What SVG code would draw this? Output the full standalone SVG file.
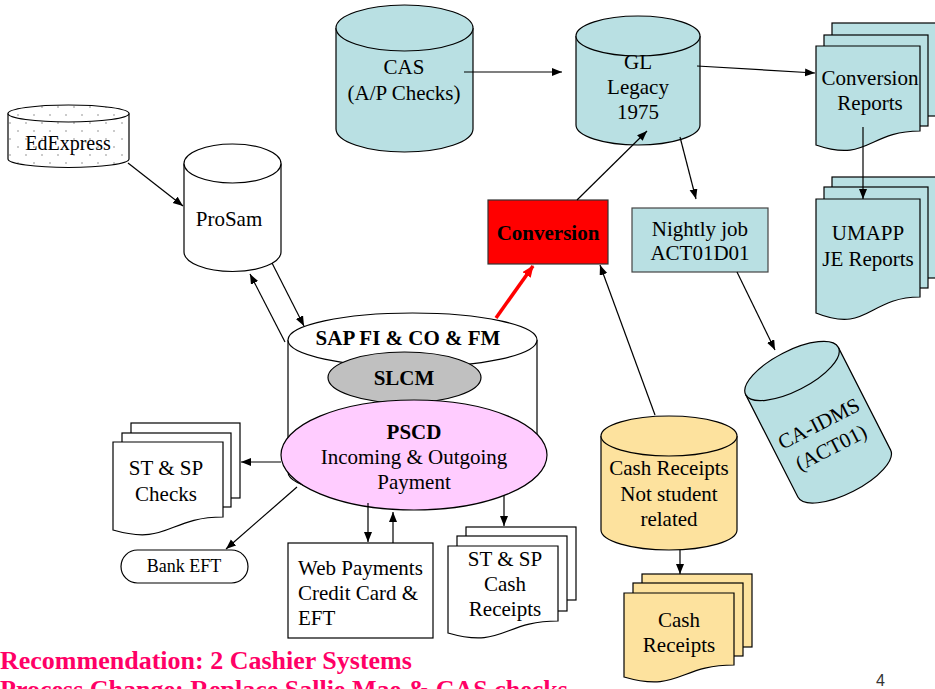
<svg xmlns="http://www.w3.org/2000/svg" width="935" height="689" viewBox="0 0 935 689" font-family="'Liberation Serif', 'Times New Roman', 'DejaVu Serif', serif">
<defs>
<pattern id="dots" width="16" height="16" patternUnits="userSpaceOnUse">
<rect width="16" height="16" fill="#fff"/>
<circle cx="2" cy="3" r="0.8" fill="#8a8a8a"/>
<circle cx="10" cy="11" r="0.8" fill="#8a8a8a"/>
</pattern>
<marker id="ah" markerUnits="userSpaceOnUse" markerWidth="11" markerHeight="9" refX="10" refY="4" orient="auto">
<path d="M0,0 L10,4 L0,8 z" fill="#000"/>
</marker>
<marker id="ahr" markerUnits="userSpaceOnUse" markerWidth="13" markerHeight="11" refX="11" refY="5" orient="auto">
<path d="M0,0 L12,5 L0,10 z" fill="#ff0000"/>
</marker>
<style>
.s{stroke:#000;stroke-width:1.2}
.t{font-family:'Liberation Serif','Times New Roman','DejaVu Serif',serif;font-size:21px;fill:#000;text-anchor:middle}
.b{font-weight:bold}
.teal{fill:#b9e0e3}
.org{fill:#fde29e}
.w{fill:#fff}
.c{fill:none;stroke:#000;stroke-width:1.2;marker-end:url(#ah)}
.note{font-family:'Liberation Serif','Times New Roman','DejaVu Serif',serif;font-size:26px;font-weight:bold;fill:#ff0066}
</style>
</defs>

<g id="edexpress">
<path class="s" fill="url(#dots)" d="M8,113.5 V159 A60.5,8.5 0 0 0 129,159 V113.5"/>
<ellipse class="s" fill="url(#dots)" cx="68.5" cy="113.5" rx="60.5" ry="8.5"/>
<text class="t" x="68" y="150" style="font-size:20px">EdExpress</text>
</g>

<g id="prosam">
<path class="s w" d="M184,163.5 V252 A48.5,19.5 0 0 0 281,252 V163.5"/>
<ellipse class="s w" cx="232.5" cy="163.5" rx="48.5" ry="19.5"/>
<text class="t" x="229" y="226">ProSam</text>
</g>

<g id="cas">
<path class="s teal" d="M336,28 V129 A68.5,23 0 0 0 473,129 V28"/>
<ellipse class="s teal" cx="404.5" cy="28" rx="68.5" ry="23"/>
<text class="t" x="404" y="74">CAS</text>
<text class="t" x="404" y="100">(A/P Checks)</text>
</g>

<g id="gl">
<path class="s teal" d="M576,36 V125 A62,20 0 0 0 700,125 V36"/>
<ellipse class="s teal" cx="638" cy="36" rx="62" ry="20"/>
<text class="t" x="638" y="69">GL</text>
<text class="t" x="638" y="94">Legacy</text>
<text class="t" x="638" y="119">1975</text>
</g>

<g id="conversion-reports">
<rect class="s teal" x="832" y="23" width="104" height="93"/>
<rect class="s teal" x="824" y="35" width="104" height="91"/>
<path class="s teal" d="M816,46 H920 V131 C868,131 868,163 816,145 Z"/>
<text class="t" x="870" y="85">Conversion</text>
<text class="t" x="870" y="110">Reports</text>
</g>

<g id="umapp">
<rect class="s teal" x="832" y="177" width="104" height="101"/>
<rect class="s teal" x="824" y="187" width="104" height="101"/>
<path class="s teal" d="M816,199 H920 V297 C868,297 868,334 816,313 Z"/>
<text class="t" x="868" y="240">UMAPP</text>
<text class="t" x="868" y="266">JE Reports</text>
</g>

<g id="conversion">
<rect x="488" y="200" width="120" height="64" fill="#ff0000" stroke="#333" stroke-width="1.2"/>
<text class="t b" x="548" y="240">Conversion</text>
</g>

<g id="nightly-job">
<rect x="632" y="208" width="136" height="64" class="teal" stroke="#444" stroke-width="1.2"/>
<text class="t" x="700" y="236">Nightly job</text>
<text class="t" x="700" y="260">ACT01D01</text>
</g>

<g id="ca-idms" transform="translate(792,371) rotate(-27)">
<path class="s teal" d="M-52,0 V115 A52,20 0 0 0 52,115 V0"/>
<ellipse class="s teal" cx="0" cy="0" rx="52" ry="20"/>
<text class="t" x="0" y="66">CA-IDMS</text>
<text class="t" x="0" y="93">(ACT01)</text>
</g>

<g id="cash-receipts-db">
<path class="s org" d="M601,436 V530 A68,20 0 0 0 737,530 V436"/>
<ellipse class="s org" cx="669" cy="436" rx="68" ry="20"/>
<text class="t" x="669" y="475">Cash Receipts</text>
<text class="t" x="669" y="501">Not student</text>
<text class="t" x="669" y="526">related</text>
</g>

<g id="cash-receipts-docs">
<rect class="s org" x="642" y="574" width="110" height="73"/>
<rect class="s org" x="633" y="583" width="110" height="73"/>
<path class="s org" d="M624,593 H734 V665 C679,665 679,693 624,677 Z"/>
<text class="t" x="679" y="627">Cash</text>
<text class="t" x="679" y="652">Receipts</text>
</g>

<g id="sap">
<path class="s w" d="M288,340 V472 A124.5,27 0 0 0 537,472 V340"/>
<ellipse class="s w" cx="412.5" cy="340" rx="124.5" ry="27"/>
<text class="t b" x="408" y="345">SAP FI &amp; CO &amp; FM</text>
</g>

<g id="slcm">
<ellipse class="s" fill="#c0c0c0" cx="404.5" cy="377.5" rx="76.5" ry="25.5"/>
<text class="t b" x="404" y="385">SLCM</text>
</g>

<g id="pscd">
<ellipse class="s" fill="#ffccff" cx="414" cy="455" rx="133" ry="55"/>
<text class="t b" x="414" y="439">PSCD</text>
<text class="t" x="414" y="464">Incoming &amp; Outgoing</text>
<text class="t" x="414" y="489">Payment</text>
</g>

<g id="st-sp-checks">
<rect class="s w" x="131" y="423" width="109" height="75"/>
<rect class="s w" x="122" y="433" width="109" height="74"/>
<path class="s w" d="M113,442 H223 V517 C168,517 168,546 113,530 Z"/>
<text class="t" x="166" y="475">ST &amp; SP</text>
<text class="t" x="166" y="501">Checks</text>
</g>

<g id="bank-eft">
<rect class="s w" x="121" y="550" width="127" height="33" rx="16.5"/>
<text class="t" x="184" y="572" style="font-size:18px">Bank EFT</text>
</g>

<g id="web-payments">
<rect class="s w" x="288" y="543" width="145" height="95"/>
<text class="t" x="298" y="575" style="text-anchor:start">Web Payments</text>
<text class="t" x="298" y="600" style="text-anchor:start">Credit Card &amp;</text>
<text class="t" x="298" y="625" style="text-anchor:start">EFT</text>
</g>

<g id="st-sp-cash">
<rect class="s w" x="466" y="527" width="110" height="73"/>
<rect class="s w" x="457" y="536" width="110" height="75"/>
<path class="s w" d="M448,546 H558 V621 C503,621 503,649 448,633 Z"/>
<text class="t" x="505" y="566">ST &amp; SP</text>
<text class="t" x="505" y="591">Cash</text>
<text class="t" x="505" y="616">Receipts</text>
</g>

<g id="connectors">
<path class="c" d="M128,163 L183,206"/>
<path class="c" d="M285,342 L250,274"/>
<path class="c" d="M272,263 L304,326"/>
<path class="c" d="M577,200 L647,131"/>
<path class="c" d="M464,72 L562,72"/>
<path class="c" d="M697,66 L815,73"/>
<path class="c" d="M680,137 L696,199"/>
<path class="c" d="M863,127 L863,199"/>
<path class="c" d="M737,272 L775,350"/>
<path class="c" d="M655,415 L600,265"/>
<path class="c" d="M680,550 L680,574"/>
<path class="c" d="M281,462 L241,462"/>
<path class="c" d="M297,487 L226,549"/>
<path class="c" d="M368,503 L368,542"/>
<path class="c" d="M393,543 L393,512"/>
<path class="c" d="M504,495 L504,526"/>
<path d="M496,318 L533,266" fill="none" stroke="#ff0000" stroke-width="3.5" marker-end="url(#ahr)"/>
</g>

<g id="notes">
<text class="note" x="0" y="669">Recommendation: 2 Cashier Systems</text>
<text class="note" x="0" y="698">Process Change: Replace Sallie Mae &amp; CAS checks</text>
<text x="876" y="686" style="font-family:'Liberation Sans',Arial,sans-serif;font-size:16px;fill:#333">4</text>
</g>
</svg>
